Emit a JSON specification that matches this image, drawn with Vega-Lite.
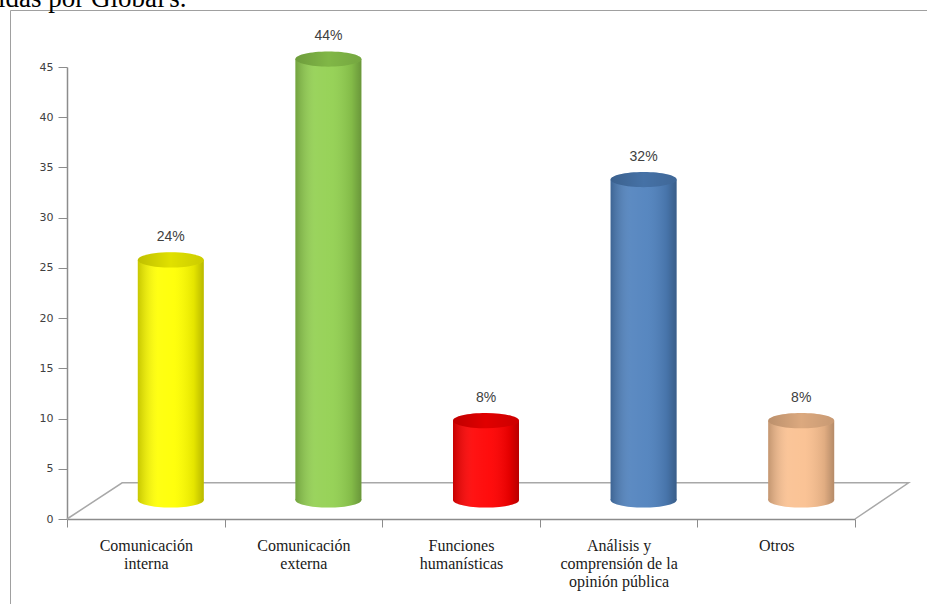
{
  "$schema": "https://vega.github.io/schema/vega-lite/v6.json",
  "autosize": "none",
  "width": 917,
  "height": 594,
  "padding": {"left": 10, "top": 10, "right": 0, "bottom": 0},
  "background": "white",
  "config": {
    "view": {"stroke": "#a0a0a0", "strokeWidth": 1},
    "axis": {"grid": false}
  },
  "title": {
    "text": "idas por Global's.",
    "anchor": "start",
    "frame": "group",
    "font": "Liberation Serif",
    "fontSize": 27,
    "fontWeight": "normal",
    "color": "black",
    "baseline": "bottom",
    "offset": -30,
    "dx": -12
  },
  "datasets": {
    "bars": [
      {"cat": "Comunicación|interna", "value": 24, "label": "24%"},
      {"cat": "Comunicación|externa", "value": 44, "label": "44%"},
      {"cat": "Funciones|humanísticas", "value": 8, "label": "8%"},
      {"cat": "Análisis y|comprensión de la|opinión pública", "value": 32, "label": "32%"},
      {"cat": "Otros", "value": 8, "label": "8%"}
    ],
    "floor": [
      {"fx": 0, "fy": 0, "o": 1},
      {"fx": 0.35, "fy": 3.6, "o": 2},
      {"fx": 5.34, "fy": 3.6, "o": 3},
      {"fx": 5, "fy": 0, "o": 4}
    ]
  },
  "data": {"name": "bars"},
  "resolve": {"scale": {"x": "independent"}, "axis": {"x": "independent", "y": "independent"}},
  "layer": [
    {
      "data": {"name": "floor"},
      "mark": {"type": "line", "color": "#a8a8a8", "strokeWidth": 1.5, "clip": false},
      "encoding": {
        "x": {"field": "fx", "type": "quantitative", "scale": {"domain": [0, 5], "range": [57, 845], "nice": false, "zero": false}, "axis": null},
        "y": {"field": "fy", "type": "quantitative", "scale": {"domain": [0, 45], "range": [509, 57], "nice": false}, "axis": null},
        "order": {"field": "o", "type": "quantitative"}
      }
    },
    {
      "encoding": {
        "x": {
          "field": "cat", "type": "nominal", "sort": null,
          "scale": {"type": "band", "range": [57, 845], "paddingInner": 0, "paddingOuter": 0},
          "axis": {
            "title": null,
            "labelExpr": "split(datum.label, '|')",
            "labelFont": "Liberation Serif",
            "labelFontSize": 16,
            "labelColor": "#1a1a1a",
            "labelLineHeight": 18,
            "labelAngle": 0,
            "labelOverlap": false,
            "labelLimit": 200,
            "tickBand": "extent",
            "tickSize": 8,
            "tickColor": "#8c8c8c",
            "domainColor": "#8c8c8c",
            "domainWidth": 1.5,
            "labelPadding": 10,
            "offset": -85
          }
        },
        "y": {
          "field": "value", "type": "quantitative",
          "scale": {"domain": [0, 45], "range": [509, 57], "nice": false},
          "axis": {
            "title": null,
            "values": [0, 5, 10, 15, 20, 25, 30, 35, 40, 45],
            "labelFont": "DejaVu Sans",
            "labelFontSize": 11,
            "labelColor": "#404040",
            "tickColor": "#8c8c8c",
            "domainColor": "#8c8c8c",
            "domainWidth": 1.5,
            "tickSize": 9,
            "labelPadding": 5,
            "offset": -57
          }
        }
      },
      "layer": [
        {
          "mark": {"type": "point", "shape": "M -1 0 A 1 0.23 0 1 1 1 0 A 1 0.23 0 1 1 -1 0 Z", "size": 4356, "filled": true, "opacity": 1, "strokeWidth": 0, "xOffset": 25, "yOffset": -19},
          "encoding": {
            "y": {"datum": 0},
            "color": {"field": "cat", "type": "nominal", "legend": null,
              "scale": {"domain": ["Comunicación|interna", "Comunicación|externa", "Funciones|humanísticas", "Análisis y|comprensión de la|opinión pública", "Otros"],
                        "range": ["#FFFF00", "#92D050", "#FF0000", "#4F81BD", "#FAC090"]}}
          }
        },
        {
          "mark": {"type": "point", "shape": "M -1 0 A 1 0.23 0 1 1 1 0 A 1 0.23 0 1 1 -1 0 Z", "size": 4356, "filled": true, "opacity": 1, "strokeWidth": 0, "xOffset": 25, "yOffset": -19,
            "fill": {"gradient": "linear", "x1": 0, "y1": 0, "x2": 1, "y2": 0, "stops": [
              {"offset": 0, "color": "rgba(0,0,0,0.22)"},
              {"offset": 0.3, "color": "rgba(255,255,255,0.08)"},
              {"offset": 0.55, "color": "rgba(255,255,255,0.05)"},
              {"offset": 0.85, "color": "rgba(0,0,0,0.1)"},
              {"offset": 1, "color": "rgba(0,0,0,0.28)"}]}},
          "encoding": {"y": {"datum": 0}}
        },
        {
          "mark": {"type": "bar", "width": 66, "xOffset": 25, "yOffset": -18, "y2Offset": -19},
          "encoding": {
            "y2": {"datum": 0},
            "color": {"field": "cat", "type": "nominal", "legend": null}
          }
        },
        {
          "mark": {"type": "bar", "width": 66, "xOffset": 25, "yOffset": -18, "y2Offset": -19,
            "fill": {"gradient": "linear", "x1": 0, "y1": 0, "x2": 1, "y2": 0, "stops": [
              {"offset": 0, "color": "rgba(0,0,0,0.22)"},
              {"offset": 0.3, "color": "rgba(255,255,255,0.08)"},
              {"offset": 0.55, "color": "rgba(255,255,255,0.05)"},
              {"offset": 0.85, "color": "rgba(0,0,0,0.1)"},
              {"offset": 1, "color": "rgba(0,0,0,0.28)"}]}},
          "encoding": {"y2": {"datum": 0}}
        },
        {
          "mark": {"type": "point", "shape": "M -1 0 A 1 0.23 0 1 1 1 0 A 1 0.23 0 1 1 -1 0 Z", "size": 4356, "filled": true, "opacity": 1, "strokeWidth": 0, "xOffset": 25, "yOffset": -18},
          "encoding": {
            "color": {"field": "cat", "type": "nominal", "legend": null}
          }
        },
        {
          "mark": {"type": "point", "shape": "M -1 0 A 1 0.23 0 1 1 1 0 A 1 0.23 0 1 1 -1 0 Z", "size": 4356, "filled": true, "opacity": 1, "strokeWidth": 0, "xOffset": 25, "yOffset": -18,
            "fill": {"gradient": "linear", "x1": 0, "y1": 0, "x2": 1, "y2": 0, "stops": [
              {"offset": 0, "color": "rgba(0,0,0,0.25)"},
              {"offset": 0.5, "color": "rgba(0,0,0,0.12)"},
              {"offset": 1, "color": "rgba(0,0,0,0.2)"}]}},
          "encoding": {}
        },
        {
          "mark": {"type": "text", "font": "Liberation Sans", "fontSize": 14, "color": "#404040", "baseline": "middle", "align": "center", "xOffset": 25, "dy": -41},
          "encoding": {
            "text": {"field": "label", "type": "nominal"}
          }
        }
      ]
    }
  ]
}
